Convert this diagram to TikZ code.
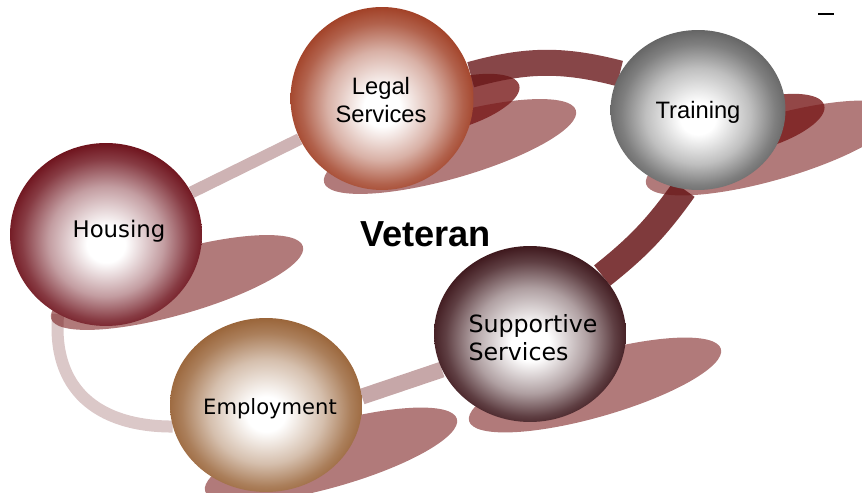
\documentclass[tikz,border=0pt]{standalone}
\usepackage{fontspec}
\setmainfont{Liberation Sans}
\newfontfamily\vfont{DejaVu Sans}
\usetikzlibrary{shapes.geometric,calc}

\definecolor{housingred}{RGB}{105,10,20}
\definecolor{legalred}{RGB}{158,58,31}
\definecolor{traininggray}{RGB}{95,95,95}
\definecolor{employbrown}{RGB}{150,95,50}
\definecolor{supportdark}{RGB}{55,15,20}
\definecolor{bandred}{RGB}{105,24,26}
\definecolor{shadowred}{RGB}{120,25,25}
\colorlet{ballcol}{gray}

\pgfdeclareradialshading[ballcol]{sphere}{\pgfpoint{0bp}{-3bp}}{color(0bp)=(white); color(5bp)=(white); color(15bp)=(ballcol!40!white); color(22bp)=(ballcol!80!white); color(27bp)=(ballcol); color(40bp)=(ballcol)}

\pgfdeclarelayer{shadows}
\pgfdeclarelayer{bands}
\pgfsetlayers{shadows,bands,main}

\tikzset{
	ball/.style={ellipse, inner sep=0pt, /utils/exec={\colorlet{ballcol}{#1}}, shading=sphere},
	flatshadow/.style={ellipse, inner sep=0pt, fill=shadowred, fill opacity=0.58, rotate=16},
	band/.style={draw=bandred, line cap=butt},
	lbl/.style={inner sep=0pt, align=center}
}

\begin{document}
\begin{tikzpicture}[x=0.02cm,y=0.02cm]
	\useasboundingbox (0,0) rectangle (862,493);

	% spheres
	\node[ball=housingred, minimum width=3.84cm, minimum height=3.66cm] (housing) at (106,258.5) {};
	\node[ball=legalred, minimum width=3.66cm, minimum height=3.66cm] (legal) at (382,394.5) {};
	\node[ball=traininggray, minimum width=3.5cm, minimum height=3.2cm] (training) at (698,383) {};
	\node[ball=employbrown, minimum width=3.84cm, minimum height=3.48cm] (employment) at (266,88) {};
	\node[ball=supportdark, minimum width=3.84cm, minimum height=3.52cm] (supportive) at (530,159) {};

	% labels
	\node[lbl, font=\vfont\fontsize{13}{16}\selectfont] (housingtxt) at (119,262) {Housing};
	\node[lbl, font=\fontsize{13.5}{16}\selectfont] (legaltxt) at (381,393) {Legal\\Services};
	\node[lbl, font=\fontsize{13.5}{16}\selectfont] (trainingtxt) at (698,381) {Training};
	\node[lbl, font=\vfont\fontsize{12}{16}\selectfont] (employmenttxt) at (270,84) {Employment};
	\node[lbl, align=left, font=\vfont\fontsize{13.5}{16}\selectfont] (supportivetxt) at (533,155) {Supportive\\Services};
	\node[lbl, font=\bfseries\fontsize{20.6}{24}\selectfont] (veteran) at (425.5,259) {Veteran};

	% connectors
	\begin{pgfonlayer}{bands}
		\draw[band, line width=0.24cm, draw opacity=0.33] (housing) -- (legal);
		\draw[band, line width=0.24cm, draw opacity=0.24] (housing.239) to[out=265, in=180, looseness=1.2] (employment.193);
		\draw[band, line width=0.32cm, draw opacity=0.38] (employment.5) -- (supportive.202);
		\draw[band, line width=0.52cm, draw opacity=0.85] (supportive.39) to[bend right=8] (training.260);
		\draw[band, line width=0.52cm, draw opacity=0.8] (legal.15) to[bend left=15] (training.155);
	\end{pgfonlayer}

	% shadows
	\begin{pgfonlayer}{shadows}
		\foreach \n/\dx/\dy in {housing/71/-48, legal/68/-48, training/74/-38, employment/65/-50, supportive/65/-51}
			\node[flatshadow, minimum width=5.24cm, minimum height=1.28cm] (\n shadow) at ($(\n)+(\dx,\dy)$) {};
		\node[flatshadow, fill opacity=0.8, minimum width=2.88cm, minimum height=1cm] (legalbandshadow) at (450,388) {};
		\node[flatshadow, fill opacity=0.8, minimum width=2.88cm, minimum height=1cm] (trainingbandshadow) at (755,368) {};
	\end{pgfonlayer}

	\draw[line width=0.6pt] (818,479) -- (834,479);
\end{tikzpicture}
\end{document}
